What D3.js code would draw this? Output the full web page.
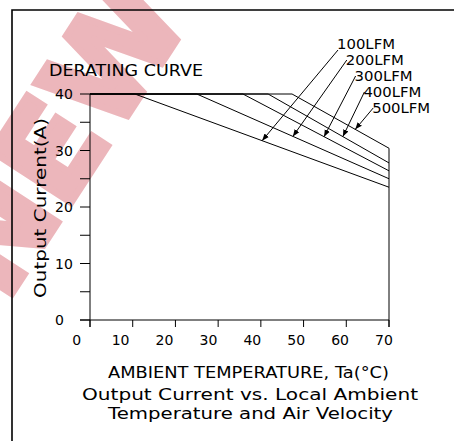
<!DOCTYPE html>
<html>
<head>
<meta charset="utf-8">
<script src="https://cdn.jsdelivr.net/npm/d3@7"></script>
<style>
  html, body { margin: 0; padding: 0; background: #fff; }
  svg { display: block; font-family: 'DejaVu Sans', sans-serif; }
</style>
</head>
<body>
<div id="chart"></div>
<script>
// data
const airflow = ['100LFM', '200LFM', '300LFM', '400LFM', '500LFM'];
const maxCurrent = 40;
const breakTemp = [10.5, 25, 35.8, 41.7, 47.3];   // where derating starts (°C)
const endCurrent = [23.5, 25.0, 26.4, 27.8, 30.4]; // current at 70°C (A)
const markerTemp = [40.3, 47.5, 54.8, 59.2, 62.1]; // where the leader arrows touch
const xTicks = [0, 10, 20, 30, 40, 50, 60, 70];
const yTicks = [0, 10, 20, 30, 40];
const yMinor = [5, 15, 25, 35];

const width = 454;
const height = 441;

const x = d3.scaleLinear().domain([0, 70]).range([90, 389]);
const y = d3.scaleLinear().domain([0, 40]).range([320, 94]);
// tick numbers sit a bit left of their ticks in the original
const xLab = d3.scaleLinear().domain([0, 70]).range([76.7, 384]);

const svg = d3.select('#chart')
    .append('svg')
    .attr('width', width)
    .attr('height', height);

// watermark, mostly cut off by the page edge
svg.append('text')
    .attr('transform', 'translate(60,136) rotate(-57)')
    .attr('text-anchor', 'middle')
    .attr('dy', '0.35em')
    .attr('font-size', 130)
    .attr('font-weight', 'bold')
    .attr('fill', '#ecb6bb')
    .attr('stroke', '#ecb6bb')
    .attr('stroke-width', 7)
    .attr('stroke-linejoin', 'miter')
    .text('NEW');

// sheet frame
svg.append('path')
    .attr('d', `M12,${height}V10H${width}`)
    .attr('fill', 'none')
    .attr('stroke', '#000')
    .attr('stroke-width', 1.6);

const g = svg.append('g')
    .attr('stroke', '#000')
    .attr('stroke-width', 1)
    .attr('fill', 'none');

// axes
g.append('line').attr('x1', 80).attr('x2', x(70)).attr('y1', y(0)).attr('y2', y(0));
g.append('line').attr('x1', x(0)).attr('x2', x(0)).attr('y1', y(40)).attr('y2', y(0) + 7);
g.append('line').attr('x1', x(70)).attr('x2', x(70))
    .attr('y1', y(d3.max(endCurrent))).attr('y2', y(0) + 7);

g.selectAll('.xt')
    .data(xTicks)
    .join('line')
    .attr('x1', (d) => x(d)).attr('x2', (d) => x(d))
    .attr('y1', y(0)).attr('y2', y(0) + 7);

g.selectAll('.yt')
    .data(yTicks.concat(yMinor))
    .join('line')
    .attr('x1', x(0) - 10).attr('x2', x(0))
    .attr('y1', (d) => y(d)).attr('y2', (d) => y(d));

// curves
const curves = airflow.map((name, i) => ({
  name,
  pts: [[0, maxCurrent], [breakTemp[i], maxCurrent], [70, endCurrent[i]]]
}));
const line = d3.line().x((d) => x(d[0])).y((d) => y(d[1]));

g.selectAll('.curve')
    .data(curves)
    .join('path')
    .attr('d', (d) => line(d.pts));

// leader labels
svg.append('defs').append('marker')
    .attr('id', 'arrow')
    .attr('viewBox', '0 0 10 10')
    .attr('refX', 10).attr('refY', 5)
    .attr('markerWidth', 7).attr('markerHeight', 7)
    .attr('markerUnits', 'userSpaceOnUse')
    .attr('orient', 'auto')
    .append('path')
    .attr('d', 'M0,1L10,5L0,9Z')
    .attr('fill', '#000');

const curveAt = (i, t) => t <= breakTemp[i] ? maxCurrent :
  maxCurrent + (endCurrent[i] - maxCurrent) * (t - breakTemp[i]) / (70 - breakTemp[i]);

const labX = (i) => 337 + i * 8.8;
const labY = (i) => 49 + i * 16;

g.selectAll('.leader')
    .data(airflow)
    .join('line')
    .attr('x1', (d, i) => labX(i) + 1)
    .attr('y1', (d, i) => i === 0 ? labY(i) + 1 : labY(i) - 5)
    .attr('x2', (d, i) => x(markerTemp[i]))
    .attr('y2', (d, i) => y(curveAt(i, markerTemp[i])))
    .attr('marker-end', 'url(#arrow)');

svg.selectAll('.lab')
    .data(airflow)
    .join('text')
    .attr('x', (d, i) => labX(i))
    .attr('y', (d, i) => labY(i))
    .attr('font-size', 14.5)
    .attr('textLength', 58)
    .attr('lengthAdjust', 'spacingAndGlyphs')
    .text((d) => d);

// tick labels
svg.selectAll('.xl')
    .data(xTicks)
    .join('text')
    .attr('x', (d) => xLab(d))
    .attr('y', 345)
    .attr('text-anchor', 'middle')
    .attr('font-size', 14)
    .text((d) => d);

svg.selectAll('.yl')
    .data(yTicks)
    .join('text')
    .attr('x', 55)
    .attr('y', (d) => y(d) + 5)
    .attr('font-size', 14)
    .text((d) => d);

// titles
svg.append('text')
    .attr('x', 49).attr('y', 76)
    .attr('font-size', 15)
    .attr('textLength', 154)
    .attr('lengthAdjust', 'spacingAndGlyphs')
    .text('DERATING CURVE');

svg.append('text')
    .attr('transform', 'translate(46,208) rotate(-90)')
    .attr('text-anchor', 'middle')
    .attr('font-size', 15)
    .attr('textLength', 180)
    .attr('lengthAdjust', 'spacingAndGlyphs')
    .text('Output Current(A)');

svg.append('text')
    .attr('x', 108).attr('y', 378)
    .attr('font-size', 15)
    .attr('textLength', 281)
    .attr('lengthAdjust', 'spacingAndGlyphs')
    .text('AMBIENT TEMPERATURE, Ta(°C)');

svg.append('text')
    .attr('x', 82).attr('y', 400)
    .attr('font-size', 15)
    .attr('textLength', 336)
    .attr('lengthAdjust', 'spacingAndGlyphs')
    .text('Output Current vs. Local Ambient');

svg.append('text')
    .attr('x', 108).attr('y', 419)
    .attr('font-size', 15)
    .attr('textLength', 285)
    .attr('lengthAdjust', 'spacingAndGlyphs')
    .text('Temperature and Air Velocity');
</script>
</body>
</html>
